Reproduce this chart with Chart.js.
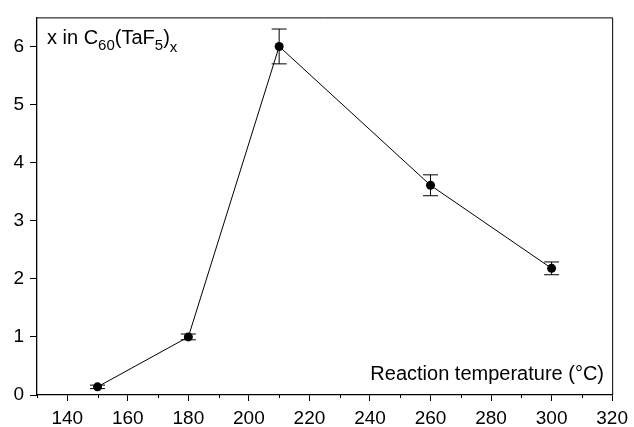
<!DOCTYPE html>
<html>
<head>
<meta charset="utf-8">
<script src="https://cdn.jsdelivr.net/npm/chart.js@4/dist/chart.umd.min.js"></script>
<style>
body { margin: 0; background: #fff; }
</style>
</head>
<body>
<canvas id="tempChart" width="634" height="427"></canvas>
<script>
// Данные: температура реакции и x в C60(TaF5)x
const temperatures = [150, 180, 210, 260, 300];
const xValues = [0.14, 1.0, 6.0, 3.61, 2.18];
const xErrors = [0.03, 0.05, 0.3, 0.18, 0.11];
const majorTicksX = [140, 160, 180, 200, 220, 240, 260, 280, 300, 320];
const minorTicksX = [130, 150, 170, 190, 210, 230, 250, 270, 290, 310];
const ticksY = [0, 1, 2, 3, 4, 5, 6];

const FONT = '"Liberation Sans", Arial, sans-serif';

// Рамка, мелкие деления, планки погрешностей и подписи
const extrasPlugin = {
    id: 'extras',
    afterDatasetsDraw(chart) {
        const ctx = chart.ctx;
        const xs = chart.scales.x;
        const ys = chart.scales.y;
        ctx.save();
        ctx.strokeStyle = '#000';
        ctx.lineWidth = 1;
        temperatures.forEach((t, i) => {
            const px = xs.getPixelForValue(t);
            const top = ys.getPixelForValue(xValues[i] + xErrors[i]);
            const bot = ys.getPixelForValue(xValues[i] - xErrors[i]);
            ctx.beginPath();
            ctx.moveTo(px, top);
            ctx.lineTo(px, bot);
            ctx.moveTo(px - 7.5, top);
            ctx.lineTo(px + 7.5, top);
            ctx.moveTo(px - 7.5, bot);
            ctx.lineTo(px + 7.5, bot);
            ctx.stroke();
        });
        ctx.restore();
    },
    afterDraw(chart) {
        const ctx = chart.ctx;
        const area = chart.chartArea;
        const xs = chart.scales.x;
        ctx.save();
        ctx.strokeStyle = '#000';
        ctx.lineWidth = 1;
        ctx.beginPath();
        ctx.moveTo(area.left, area.top + 0.5);
        ctx.lineTo(area.right + 0.5, area.top + 0.5);
        ctx.lineTo(area.right + 0.5, area.bottom);
        ctx.stroke();

        // мелкие деления по оси X
        ctx.beginPath();
        minorTicksX.forEach(v => {
            const px = Math.round(xs.getPixelForValue(v)) + 0.5;
            ctx.moveTo(px, area.bottom);
            ctx.lineTo(px, area.bottom + 3);
        });
        ctx.stroke();

        // подпись оси Y: x in C60(TaF5)x
        ctx.fillStyle = '#000';
        ctx.textBaseline = 'alphabetic';
        ctx.textAlign = 'left';
        const parts = [
            ['x in C', 20, 0],
            ['60', 15, 6],
            ['(TaF', 20, 0],
            ['5', 15, 6],
            [')', 20, 0],
            ['x', 15, 8]
        ];
        let cx = area.left + 10;
        const baseY = 44;
        parts.forEach(([txt, size, dy]) => {
            ctx.font = size + 'px ' + FONT;
            ctx.fillText(txt, cx, baseY + dy);
            cx += ctx.measureText(txt).width;
        });

        // подпись оси X
        ctx.font = '20px ' + FONT;
        ctx.textAlign = 'right';
        ctx.fillText('Reaction temperature (°C)', 604, 380);
        ctx.restore();
    }
};

new Chart(document.getElementById('tempChart'), {
    type: 'line',
    data: {
        datasets: [{
            data: temperatures.map((t, i) => ({ x: t, y: xValues[i] })),
            borderColor: '#000',
            borderWidth: 1,
            backgroundColor: '#000',
            pointRadius: 4.5,
            pointBackgroundColor: '#000',
            pointBorderWidth: 0,
            tension: 0,
            fill: false
        }]
    },
    options: {
        responsive: false,
        animation: false,
        layout: {
            padding: { top: 10, right: 18, left: 0, bottom: 0 }
        },
        plugins: {
            legend: { display: false },
            tooltip: { enabled: false },
            title: { display: false }
        },
        scales: {
            x: {
                type: 'linear',
                min: 130,
                max: 320,
                afterBuildTicks(scale) {
                    scale.ticks = majorTicksX.map(v => ({ value: v }));
                },
                afterFit(scale) { scale.height = 32; },
                ticks: {
                    color: '#000',
                    padding: 6,
                    maxRotation: 0,
                    autoSkip: false,
                    font: { family: FONT, size: 19 }
                },
                grid: {
                    drawOnChartArea: false,
                    color: '#000',
                    tickLength: 6,
                    tickWidth: 1
                },
                border: { color: '#000', width: 1.3 }
            },
            y: {
                min: 0,
                max: 6.5,
                afterBuildTicks(scale) {
                    scale.ticks = ticksY.map(v => ({ value: v }));
                },
                afterFit(scale) { scale.width = 37; },
                ticks: {
                    color: '#000',
                    padding: 6,
                    autoSkip: false,
                    font: { family: FONT, size: 19 }
                },
                grid: {
                    drawOnChartArea: false,
                    color: '#000',
                    tickLength: 7,
                    tickWidth: 1
                },
                border: { color: '#000', width: 1.3 }
            }
        }
    },
    plugins: [extrasPlugin]
});
</script>
</body>
</html>
